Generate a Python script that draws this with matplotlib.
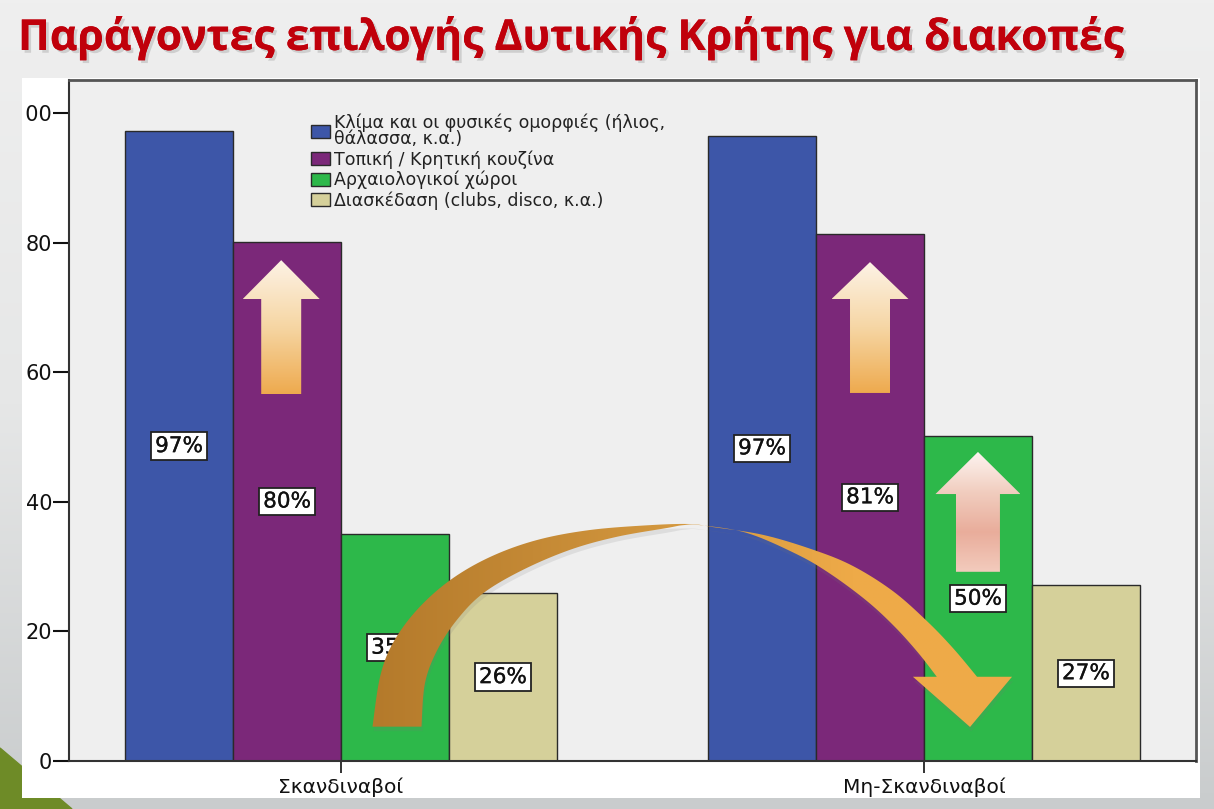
import numpy as np
import matplotlib
matplotlib.use("Agg")
import matplotlib.pyplot as plt
from matplotlib import font_manager
from matplotlib.patches import Rectangle, Polygon
from matplotlib.colors import LinearSegmentedColormap
from matplotlib.transforms import Bbox, TransformedBbox
import matplotlib.patheffects as pe

# Data
title = "Παράγοντες επιλογής Δυτικής Κρήτης για διακοπές"
groups = ["Σκανδιναβοί", "Μη-Σκανδιναβοί"]
factors = ["Κλίμα και οι φυσικές ομορφιές (ήλιος,\nθάλασσα, κ.α.)",
           "Τοπική / Κρητική κουζίνα",
           "Αρχαιολογικοί χώροι",
           "Διασκέδαση (clubs, disco, κ.α.)"]
scand = [97.2, 80.1, 35.0, 25.9]
non_scand = [96.5, 81.4, 50.1, 27.1]
scand_pct = [97, 80, 35, 26]
non_scand_pct = [97, 81, 50, 27]
colors = ["#3d56a8", "#7b2879", "#2db84a", "#d5d09a"]
yticks = [0, 20, 40, 60, 80, 100]

W, H = 1214, 809


def pick(names):
    avail = {f.name for f in font_manager.fontManager.ttflist}
    for n in names:
        if n in avail:
            return n
    return "DejaVu Sans"


title_font = pick(["Liberation Sans Narrow", "Open Sans", "Noto Sans"])
plt.rcParams["font.family"] = "DejaVu Sans"


def gradient_fill(ax, verts, stops, vertical=True, z=5):
    poly = Polygon(verts, closed=True, facecolor="none", edgecolor="none", zorder=z)
    ax.add_patch(poly)
    xs = [v[0] for v in verts]
    ys = [v[1] for v in verts]
    cmap = LinearSegmentedColormap.from_list("g", stops)
    img = np.linspace(0, 1, 256)[:, None] if vertical else np.linspace(0, 1, 256)[None, :]
    im = ax.imshow(img, cmap=cmap, extent=(min(xs), max(xs), min(ys), max(ys)),
                   aspect="auto", origin="upper", zorder=z, interpolation="bilinear")
    im.set_clip_path(poly)


def up_arrow(xc, y0, yb, yt, shaft, head):
    return [(xc - shaft, y0), (xc + shaft, y0), (xc + shaft, yb), (xc + head, yb),
            (xc, yt), (xc - head, yb), (xc - shaft, yb)]


def smooth(pts, n=10):
    p = np.asarray(pts, float)
    p = np.vstack([p[0], p, p[-1]])
    out = []
    for i in range(1, len(p) - 2):
        p0, p1, p2, p3 = p[i - 1], p[i], p[i + 1], p[i + 2]
        for t in np.linspace(0, 1, n, endpoint=False):
            out.append(0.5 * (2 * p1 + (-p0 + p2) * t + (2 * p0 - 5 * p1 + 4 * p2 - p3) * t ** 2
                              + (-p0 + 3 * p1 - 3 * p2 + p3) * t ** 3))
    out.append(p[-2])
    return [tuple(q) for q in out]


fig = plt.figure(figsize=(W / 100, H / 100), dpi=100)

# slide background
bg = fig.add_axes([0, 0, 1, 1])
bg.set_xlim(0, W)
bg.set_ylim(H, 0)
bg.axis("off")
bg_cmap = LinearSegmentedColormap.from_list("bg", ["#efefef", "#e6e7e7", "#c9cccd"])
bg.imshow(np.linspace(0, 1, 256)[:, None], cmap=bg_cmap, extent=(0, W, H, 0),
          aspect="auto", zorder=0)
bg.add_patch(Polygon([(0, 748), (72, H), (0, H)], closed=True, color="#6e8b27", zorder=1))
bg.add_patch(Rectangle((22, 78), 1178, 720, facecolor="white", edgecolor="none", zorder=2))

ttl = bg.text(18, 50, title, fontsize=34, fontweight="bold", color="#c0000b",
              family=[title_font, "DejaVu Sans"], va="baseline", ha="left", zorder=3)
fig.canvas.draw()
tw = ttl.get_window_extent().width
ttl.set_fontsize(34 * 1107 / tw)
ttl.set_path_effects([pe.withSimplePatchShadow(offset=(2, -2), shadow_rgbFace="#888888", alpha=0.3),
                      pe.Normal()])

# chart
ax = fig.add_axes([69 / W, (H - 761) / H, (1196 - 69) / W, (761 - 80) / H])
ax.set_facecolor("#efefef")
x = np.arange(len(groups))
bw = 0.1852
values = [scand, non_scand]
pcts = [scand_pct, non_scand_pct]
for i, (name, col) in enumerate(zip(factors, colors)):
    ax.bar(x + (i - 1.5) * bw, [values[0][i], values[1][i]], width=bw, color=col,
           edgecolor="#2a2a2a", linewidth=1.0, label=name, zorder=2)
    for g in range(len(groups)):
        ax.text(g + (i - 1.5) * bw, values[g][i] / 2, f"{pcts[g][i]}%", fontsize=15.5,
                ha="center", va="center", color="#111111", zorder=4,
                path_effects=[pe.withStroke(linewidth=0.2, foreground="#111111")],
                bbox=dict(boxstyle="square,pad=0.17", facecolor="white", edgecolor="#222222", linewidth=1.3))

leg = ax.legend(loc="upper left", bbox_to_anchor=((311 - 69) / 1127, (761 - 114) / 681),
                frameon=False, fontsize=12.5, handlelength=1.1, handleheight=0.78,
                handletextpad=0.22, labelspacing=0.12, borderpad=0, borderaxespad=0)
for t in leg.get_texts():
    t.set_linespacing(0.82)
    t.set_color("#222222")

# decorative arrows
bar_purple = -0.5 * bw
gradient_fill(ax, up_arrow(bar_purple - 0.01, 56.6, 71.3, 77.3, 0.0343, 0.066),
              ["#fdf3e6", "#f6d6a4", "#eeaa4e"], z=5)
gradient_fill(ax, up_arrow(1 + bar_purple, 56.8, 71.3, 77.0, 0.0343, 0.066),
              ["#fdf3e6", "#f6d6a4", "#eeaa4e"], z=5)
gradient_fill(ax, up_arrow(1 + 0.5 * bw, 29.2, 41.2, 47.7, 0.0377, 0.0729),
              ["#fdf4f0", "#f1cdbf", "#e9ad9b", "#f3cbbd"], z=5)

outer = [(0.054, 5.3), (0.067, 13.0), (0.089, 18.2), (0.130, 23.3), (0.187, 27.9),
         (0.256, 31.5), (0.336, 34.1), (0.427, 35.65), (0.530, 36.4), (0.599, 36.57),
         (0.638, 36.1), (0.724, 34.9), (0.810, 32.6), (0.878, 30.1), (0.947, 26.2),
         (1.005, 21.6), (1.050, 17.4), (1.091, 13.0)]
head = [(1.151, 13.0), (1.079, 5.25), (0.981, 13.0)]
inner = [(1.022, 13.0), (0.990, 16.7), (0.950, 20.7), (0.902, 24.7), (0.839, 28.9),
         (0.782, 31.9), (0.696, 35.2), (0.616, 36.4), (0.587, 36.4), (0.559, 35.96),
         (0.473, 34.6), (0.393, 32.6), (0.312, 29.5), (0.244, 25.9), (0.199, 21.8),
         (0.165, 17.1), (0.144, 12.0), (0.138, 5.3)]
curve = smooth(outer) + head + smooth(inner)
shadow = [(px + 0.002, py - 0.7) for px, py in curve]
ax.add_patch(Polygon(shadow, closed=True, facecolor="#777777", alpha=0.15, edgecolor="none", zorder=5))
gradient_fill(ax, curve, ["#b47a2b", "#c48935", "#d69a40", "#eeaa48", "#efab48"], vertical=False, z=6)

ax.set_xlim(-0.4666, 1.4666)
ax.set_ylim(0, 105.1)
ax.set_yticks(yticks)
ax.set_yticklabels([str(t) for t in yticks])
ax.set_xticks(x)
ax.set_xticklabels(groups)
ax.tick_params(axis="y", length=11.5, width=1.5, pad=0.5, labelsize=15, colors="#111111")
ax.tick_params(axis="x", length=8.6, width=1.2, pad=3, labelsize=14.5, colors="#111111")
for side in ["left", "bottom"]:
    ax.spines[side].set_color("#333333")
    ax.spines[side].set_linewidth(1.5)
for side in ["top", "right"]:
    ax.spines[side].set_color("#555555")
    ax.spines[side].set_linewidth(2)

# the panel edge cuts the first digit of the top label, as on the slide
clip = TransformedBbox(Bbox([[25 / W, (H - 798) / H], [1200 / W, (H - 78) / H]]), fig.transFigure)
for lbl in ax.get_yticklabels():
    lbl.set_clip_box(clip)
    lbl.set_clip_on(True)

fig.savefig("out.png", dpi=100)
